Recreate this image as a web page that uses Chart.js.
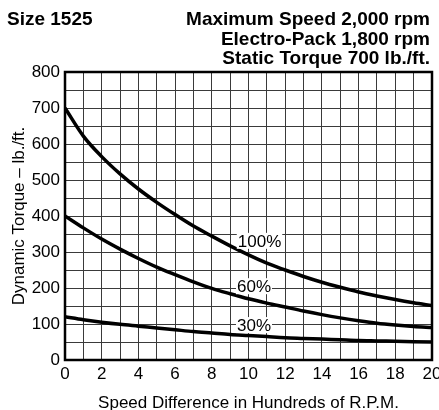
<!DOCTYPE html>
<html>
<head>
<meta charset="utf-8">
<script src="https://cdn.jsdelivr.net/npm/chart.js@4"></script>
<style>
  html, body { margin: 0; padding: 0; background: #fff; }
  #wrap { width: 439px; height: 410px; }
</style>
</head>
<body>
<div id="wrap"><canvas id="grafica" width="439" height="410"></canvas></div>
<script>
// datos
const velocidad = [0, 1, 2, 3, 4, 5, 6, 7, 8, 9, 10, 11, 12, 13, 14, 15, 16, 17, 18, 19, 20];
const par100 = [700, 622, 565, 517, 475, 438, 404, 372, 344, 317, 292, 269, 250, 232, 216, 202, 189, 178, 168, 159, 151];
const par60 = [400, 367, 336, 308, 282, 258, 237, 217, 199, 184, 170, 158, 147, 136, 126, 117, 109, 102, 97, 93, 90];
const par30 = [120, 112, 105, 99, 94, 89, 84, 79, 75, 71, 68, 65, 62, 60, 58, 56, 54, 53, 52, 51, 50];
const etiquetas = ["100%", "60%", "30%"];
const xTicks = [0, 2, 4, 6, 8, 10, 12, 14, 16, 18, 20];
const yTicks = [0, 100, 200, 300, 400, 500, 600, 700, 800];

const fuente = "'Liberation Sans', Arial, sans-serif";

function puntos(valores) {
  return velocidad.map((v, i) => ({ x: v, y: valores[i] }));
}

// titulos y etiquetas de las curvas
const textos = {
  id: "textos",
  afterDatasetsDraw(chart) {
    const ctx = chart.ctx;
    const a = chart.chartArea;
    const sx = chart.scales.x;
    const sy = chart.scales.y;

    // etiquetas sobre la grafica
    const pos = [[10.6, 331], [10.3, 205], [10.3, 97]];
    ctx.save();
    ctx.font = "17px " + fuente;
    ctx.textAlign = "center";
    ctx.textBaseline = "middle";
    etiquetas.forEach((t, i) => {
      const px = sx.getPixelForValue(pos[i][0]);
      const py = sy.getPixelForValue(pos[i][1]);
      const w = ctx.measureText(t).width;
      ctx.fillStyle = "#fff";
      ctx.fillRect(px - w / 2 - 1, py - 8, w + 2, 16);
      ctx.fillStyle = "#000";
      ctx.fillText(t, px, py + 1);
    });

    // marco
    ctx.strokeStyle = "#000";
    ctx.lineWidth = 2.5;
    ctx.strokeRect(a.left, a.top, a.right - a.left, a.bottom - a.top);

    // encabezado
    ctx.font = "bold 19px " + fuente;
    ctx.textBaseline = "alphabetic";
    ctx.textAlign = "left";
    ctx.fillText("Size 1525", 7, 25);
    ctx.textAlign = "right";
    ctx.fillText("Maximum Speed 2,000 rpm", 430, 25);
    ctx.fillText("Electro-Pack 1,800 rpm", 430, 45);
    ctx.fillText("Static Torque 700 lb./ft.", 430, 64);
    ctx.restore();
  }
};

const serie = (valores) => ({
  data: puntos(valores),
  borderColor: "#000",
  borderWidth: 3.5,
  pointRadius: 0,
  fill: false,
  tension: 0.4,
  cubicInterpolationMode: "monotone"
});

const ctx = document.getElementById("grafica").getContext("2d");
new Chart(ctx, {
  type: "line",
  data: {
    datasets: [serie(par100), serie(par60), serie(par30)]
  },
  options: {
    responsive: false,
    animation: false,
    layout: { padding: { top: 72, right: 7, left: 0, bottom: 0 } },
    plugins: {
      legend: { display: false },
      tooltip: { enabled: false }
    },
    scales: {
      x: {
        type: "linear",
        min: 0,
        max: 20,
        ticks: {
          stepSize: 1,
          autoSkip: false,
          maxRotation: 0,
          padding: 4,
          color: "#000",
          font: { family: fuente, size: 17 },
          callback: (v) => xTicks.includes(v) ? String(v) : ""
        },
        grid: { color: "#3a3a3a", lineWidth: 1, drawTicks: false },
        border: { display: false },
        title: {
          display: true,
          text: "Speed Difference in Hundreds of R.P.M.",
          color: "#000",
          font: { family: fuente, size: 17 },
          padding: { top: 8, bottom: -4 }
        },
        afterFit(scale) {
          scale.height = 50;
          scale.paddingLeft = 0;
          scale.paddingRight = 0;
        }
      },
      y: {
        min: 0,
        max: 800,
        ticks: {
          stepSize: 50,
          autoSkip: false,
          padding: 5,
          color: "#000",
          font: { family: fuente, size: 17 },
          callback: (v) => yTicks.includes(v) ? String(v) : ""
        },
        grid: { color: "#3a3a3a", lineWidth: 1, drawTicks: false },
        border: { display: false },
        title: {
          display: true,
          text: "Dynamic Torque – lb./ft.",
          color: "#000",
          font: { family: fuente, size: 17 },
          padding: { top: 9, bottom: 0 }
        },
        afterFit(scale) {
          scale.width = 65;
        }
      }
    }
  },
  plugins: [textos]
});
</script>
</body>
</html>
